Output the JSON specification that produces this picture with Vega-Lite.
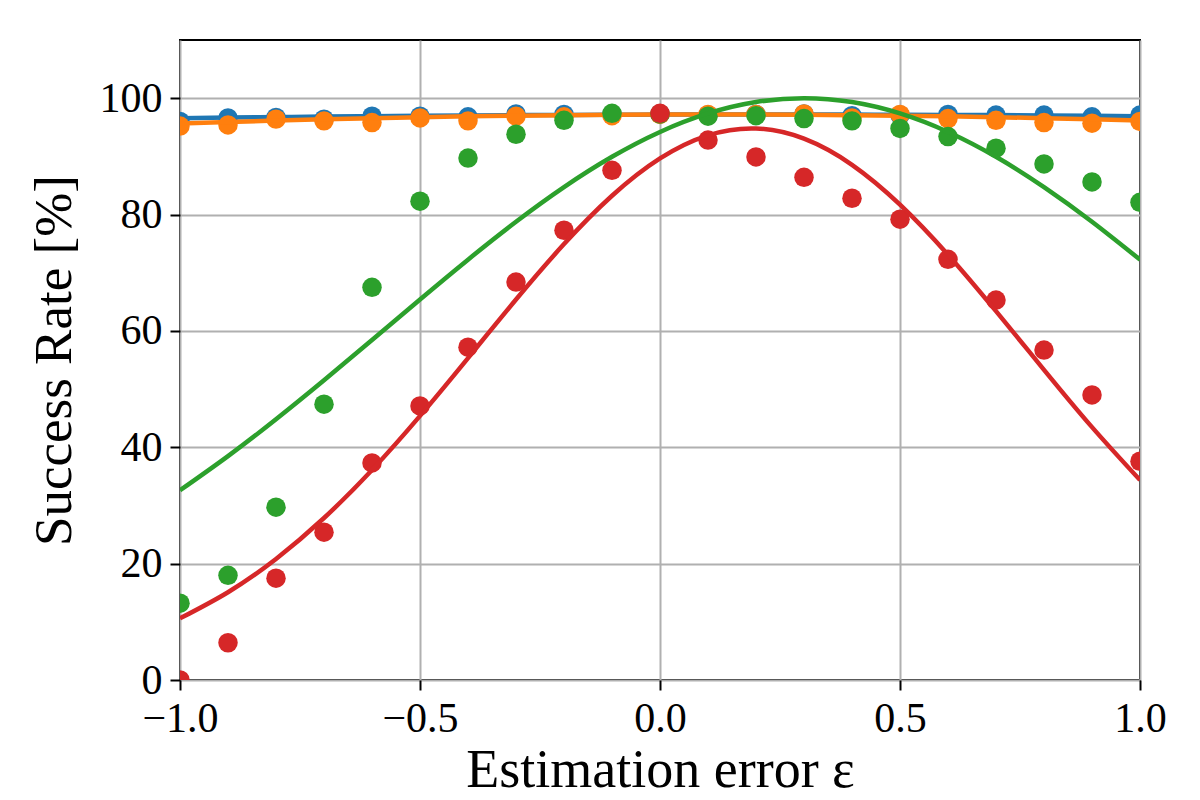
{
  "$schema": "https://vega.github.io/schema/vega-lite/v6.json",
  "width": 960,
  "height": 640,
  "autosize": "none",
  "padding": {"left": 180, "top": 40, "right": 60, "bottom": 120},
  "background": "white",
  "config": {
    "font": "Liberation Serif",
    "view": {"stroke": "black", "strokeWidth": 2},
    "axis": {
      "labelFont": "Liberation Serif",
      "titleFont": "Liberation Serif",
      "labelFontSize": 42,
      "titleFontSize": 53,
      "labelColor": "black",
      "titleColor": "black",
      "titleFontWeight": "normal",
      "tickColor": "black",
      "tickWidth": 2,
      "tickSize": 10,
      "domain": false,
      "labelFlush": false,
      "labelOverlap": false,
      "gridColor": "#b0b0b0",
      "gridWidth": 2,
      "gridOpacity": 1
    }
  },
  "datasets": {
    "pts": [
      {"x": -1.0, "y": 96.0, "s": "s1"}, {"x": -0.9, "y": 96.6, "s": "s1"}, {"x": -0.8, "y": 96.7, "s": "s1"}, {"x": -0.7, "y": 96.4, "s": "s1"}, {"x": -0.6, "y": 96.9, "s": "s1"}, {"x": -0.5, "y": 96.9, "s": "s1"}, {"x": -0.4, "y": 96.8, "s": "s1"}, {"x": -0.3, "y": 97.3, "s": "s1"}, {"x": -0.2, "y": 97.2, "s": "s1"}, {"x": -0.1, "y": 97.2, "s": "s1"}, {"x": 0.0, "y": 97.3, "s": "s1"}, {"x": 0.1, "y": 97.1, "s": "s1"}, {"x": 0.2, "y": 97.2, "s": "s1"}, {"x": 0.3, "y": 97.3, "s": "s1"}, {"x": 0.4, "y": 97.0, "s": "s1"}, {"x": 0.5, "y": 97.1, "s": "s1"}, {"x": 0.6, "y": 97.2, "s": "s1"}, {"x": 0.7, "y": 97.1, "s": "s1"}, {"x": 0.8, "y": 97.1, "s": "s1"}, {"x": 0.9, "y": 96.8, "s": "s1"}, {"x": 1.0, "y": 97.1, "s": "s1"},
      {"x": -1.0, "y": 95.2, "s": "s2"}, {"x": -0.9, "y": 95.4, "s": "s2"}, {"x": -0.8, "y": 96.4, "s": "s2"}, {"x": -0.7, "y": 96.1, "s": "s2"}, {"x": -0.6, "y": 95.8, "s": "s2"}, {"x": -0.5, "y": 96.6, "s": "s2"}, {"x": -0.4, "y": 96.1, "s": "s2"}, {"x": -0.3, "y": 96.9, "s": "s2"}, {"x": -0.2, "y": 96.8, "s": "s2"}, {"x": -0.1, "y": 97.0, "s": "s2"}, {"x": 0.0, "y": 97.2, "s": "s2"}, {"x": 0.1, "y": 97.2, "s": "s2"}, {"x": 0.2, "y": 97.2, "s": "s2"}, {"x": 0.3, "y": 97.3, "s": "s2"}, {"x": 0.4, "y": 96.6, "s": "s2"}, {"x": 0.5, "y": 97.2, "s": "s2"}, {"x": 0.6, "y": 96.5, "s": "s2"}, {"x": 0.7, "y": 96.2, "s": "s2"}, {"x": 0.8, "y": 95.8, "s": "s2"}, {"x": 0.9, "y": 95.7, "s": "s2"}, {"x": 1.0, "y": 96.0, "s": "s2"},
      {"x": -1.0, "y": 13.2, "s": "s3"}, {"x": -0.9, "y": 18.0, "s": "s3"}, {"x": -0.8, "y": 29.7, "s": "s3"}, {"x": -0.7, "y": 47.4, "s": "s3"}, {"x": -0.6, "y": 67.5, "s": "s3"}, {"x": -0.5, "y": 82.3, "s": "s3"}, {"x": -0.4, "y": 89.7, "s": "s3"}, {"x": -0.3, "y": 93.8, "s": "s3"}, {"x": -0.2, "y": 96.2, "s": "s3"}, {"x": -0.1, "y": 97.4, "s": "s3"}, {"x": 0.0, "y": 97.3, "s": "s3"}, {"x": 0.1, "y": 96.9, "s": "s3"}, {"x": 0.2, "y": 97.0, "s": "s3"}, {"x": 0.3, "y": 96.5, "s": "s3"}, {"x": 0.4, "y": 96.1, "s": "s3"}, {"x": 0.5, "y": 94.8, "s": "s3"}, {"x": 0.6, "y": 93.4, "s": "s3"}, {"x": 0.7, "y": 91.4, "s": "s3"}, {"x": 0.8, "y": 88.7, "s": "s3"}, {"x": 0.9, "y": 85.6, "s": "s3"}, {"x": 1.0, "y": 82.1, "s": "s3"},
      {"x": -1.0, "y": 0.0, "s": "s4"}, {"x": -0.9, "y": 6.4, "s": "s4"}, {"x": -0.8, "y": 17.5, "s": "s4"}, {"x": -0.7, "y": 25.4, "s": "s4"}, {"x": -0.6, "y": 37.3, "s": "s4"}, {"x": -0.5, "y": 47.1, "s": "s4"}, {"x": -0.4, "y": 57.2, "s": "s4"}, {"x": -0.3, "y": 68.4, "s": "s4"}, {"x": -0.2, "y": 77.3, "s": "s4"}, {"x": -0.1, "y": 87.6, "s": "s4"}, {"x": 0.0, "y": 97.4, "s": "s4"}, {"x": 0.1, "y": 92.8, "s": "s4"}, {"x": 0.2, "y": 89.9, "s": "s4"}, {"x": 0.3, "y": 86.4, "s": "s4"}, {"x": 0.4, "y": 82.8, "s": "s4"}, {"x": 0.5, "y": 79.2, "s": "s4"}, {"x": 0.6, "y": 72.3, "s": "s4"}, {"x": 0.7, "y": 65.3, "s": "s4"}, {"x": 0.8, "y": 56.7, "s": "s4"}, {"x": 0.9, "y": 49.0, "s": "s4"}, {"x": 1.0, "y": 37.6, "s": "s4"}
    ],
    "fit": [
      {"x": -1.0, "y": 96.55, "s": "s1"}, {"x": -0.9, "y": 96.66, "s": "s1"}, {"x": -0.8, "y": 96.75, "s": "s1"}, {"x": -0.7, "y": 96.84, "s": "s1"}, {"x": -0.6, "y": 96.91, "s": "s1"}, {"x": -0.5, "y": 96.98, "s": "s1"}, {"x": -0.4, "y": 97.04, "s": "s1"}, {"x": -0.3, "y": 97.09, "s": "s1"}, {"x": -0.2, "y": 97.13, "s": "s1"}, {"x": -0.1, "y": 97.16, "s": "s1"}, {"x": 0.0, "y": 97.18, "s": "s1"}, {"x": 0.1, "y": 97.2, "s": "s1"}, {"x": 0.2, "y": 97.2, "s": "s1"}, {"x": 0.3, "y": 97.2, "s": "s1"}, {"x": 0.4, "y": 97.18, "s": "s1"}, {"x": 0.5, "y": 97.16, "s": "s1"}, {"x": 0.6, "y": 97.13, "s": "s1"}, {"x": 0.7, "y": 97.09, "s": "s1"}, {"x": 0.8, "y": 97.04, "s": "s1"}, {"x": 0.9, "y": 96.98, "s": "s1"}, {"x": 1.0, "y": 96.91, "s": "s1"},
      {"x": -1.0, "y": 95.63, "s": "s2"}, {"x": -0.9, "y": 95.9, "s": "s2"}, {"x": -0.8, "y": 96.15, "s": "s2"}, {"x": -0.7, "y": 96.37, "s": "s2"}, {"x": -0.6, "y": 96.56, "s": "s2"}, {"x": -0.5, "y": 96.73, "s": "s2"}, {"x": -0.4, "y": 96.88, "s": "s2"}, {"x": -0.3, "y": 96.99, "s": "s2"}, {"x": -0.2, "y": 97.08, "s": "s2"}, {"x": -0.1, "y": 97.15, "s": "s2"}, {"x": 0.0, "y": 97.19, "s": "s2"}, {"x": 0.1, "y": 97.2, "s": "s2"}, {"x": 0.2, "y": 97.19, "s": "s2"}, {"x": 0.3, "y": 97.15, "s": "s2"}, {"x": 0.4, "y": 97.08, "s": "s2"}, {"x": 0.5, "y": 96.99, "s": "s2"}, {"x": 0.6, "y": 96.88, "s": "s2"}, {"x": 0.7, "y": 96.73, "s": "s2"}, {"x": 0.8, "y": 96.56, "s": "s2"}, {"x": 0.9, "y": 96.37, "s": "s2"}, {"x": 1.0, "y": 96.15, "s": "s2"},
      {"x": -1.0, "y": 32.6, "s": "s3"}, {"x": -0.9, "y": 38.48, "s": "s3"}, {"x": -0.8, "y": 44.82, "s": "s3"}, {"x": -0.7, "y": 51.52, "s": "s3"}, {"x": -0.6, "y": 58.43, "s": "s3"}, {"x": -0.5, "y": 65.41, "s": "s3"}, {"x": -0.4, "y": 72.25, "s": "s3"}, {"x": -0.3, "y": 78.76, "s": "s3"}, {"x": -0.2, "y": 84.72, "s": "s3"}, {"x": -0.1, "y": 89.93, "s": "s3"}, {"x": 0.0, "y": 94.2, "s": "s3"}, {"x": 0.1, "y": 97.38, "s": "s3"}, {"x": 0.2, "y": 99.34, "s": "s3"}, {"x": 0.3, "y": 100.0, "s": "s3"}, {"x": 0.4, "y": 99.34, "s": "s3"}, {"x": 0.5, "y": 97.38, "s": "s3"}, {"x": 0.6, "y": 94.2, "s": "s3"}, {"x": 0.7, "y": 89.93, "s": "s3"}, {"x": 0.8, "y": 84.72, "s": "s3"}, {"x": 0.9, "y": 78.76, "s": "s3"}, {"x": 1.0, "y": 72.25, "s": "s3"},
      {"x": -1.0, "y": 10.6, "s": "s4"}, {"x": -0.9, "y": 15.09, "s": "s4"}, {"x": -0.8, "y": 20.81, "s": "s4"}, {"x": -0.7, "y": 27.84, "s": "s4"}, {"x": -0.6, "y": 36.1, "s": "s4"}, {"x": -0.5, "y": 45.39, "s": "s4"}, {"x": -0.4, "y": 55.33, "s": "s4"}, {"x": -0.3, "y": 65.39, "s": "s4"}, {"x": -0.2, "y": 74.92, "s": "s4"}, {"x": -0.1, "y": 83.23, "s": "s4"}, {"x": 0.0, "y": 89.65, "s": "s4"}, {"x": 0.1, "y": 93.62, "s": "s4"}, {"x": 0.2, "y": 94.79, "s": "s4"}, {"x": 0.3, "y": 93.04, "s": "s4"}, {"x": 0.4, "y": 88.55, "s": "s4"}, {"x": 0.5, "y": 81.7, "s": "s4"}, {"x": 0.6, "y": 73.09, "s": "s4"}, {"x": 0.7, "y": 63.39, "s": "s4"}, {"x": 0.8, "y": 53.31, "s": "s4"}, {"x": 0.9, "y": 43.46, "s": "s4"}, {"x": 1.0, "y": 34.36, "s": "s4"}
    ]
  },
  "encoding": {
    "x": {"field": "x", "type": "quantitative", "scale": {"domain": [-1, 1], "nice": false, "zero": false},
      "axis": {"values": [-1, -0.5, 0, 0.5, 1], "format": ".1f", "title": "Estimation error ε", "titleFontSize": 54, "labelPadding": 8, "titlePadding": 4, "grid": true}},
    "y": {"field": "y", "type": "quantitative", "scale": {"domain": [0, 110], "nice": false},
      "axis": {"values": [0, 20, 40, 60, 80, 100], "title": "Success Rate [%]", "labelPadding": 8, "titlePadding": 18, "grid": true}},
    "color": {"field": "s", "type": "nominal", "legend": null,
      "scale": {"domain": ["s1", "s2", "s3", "s4"], "range": ["#1f77b4", "#ff7f0e", "#2ca02c", "#d62728"]}}
  },
  "layer": [
    {"data": {"name": "pts"}, "transform": [{"filter": "datum.s === 's1'"}], "mark": {"type": "circle", "size": 380, "opacity": 1, "clip": true}},
    {"data": {"name": "fit"}, "transform": [{"filter": "datum.s === 's1'"}], "mark": {"type": "line", "strokeWidth": 4.5, "interpolate": "natural", "clip": true}},
    {"data": {"name": "pts"}, "transform": [{"filter": "datum.s === 's2'"}], "mark": {"type": "circle", "size": 380, "opacity": 1, "clip": true}},
    {"data": {"name": "fit"}, "transform": [{"filter": "datum.s === 's2'"}], "mark": {"type": "line", "strokeWidth": 4.5, "interpolate": "natural", "clip": true}},
    {"data": {"name": "pts"}, "transform": [{"filter": "datum.s === 's3'"}], "mark": {"type": "circle", "size": 380, "opacity": 1, "clip": true}},
    {"data": {"name": "fit"}, "transform": [{"filter": "datum.s === 's3'"}], "mark": {"type": "line", "strokeWidth": 4.5, "interpolate": "natural", "clip": true}},
    {"data": {"name": "pts"}, "transform": [{"filter": "datum.s === 's4'"}], "mark": {"type": "circle", "size": 380, "opacity": 1, "clip": true}},
    {"data": {"name": "fit"}, "transform": [{"filter": "datum.s === 's4'"}], "mark": {"type": "line", "strokeWidth": 4.5, "interpolate": "natural", "clip": true}}
  ]
}
